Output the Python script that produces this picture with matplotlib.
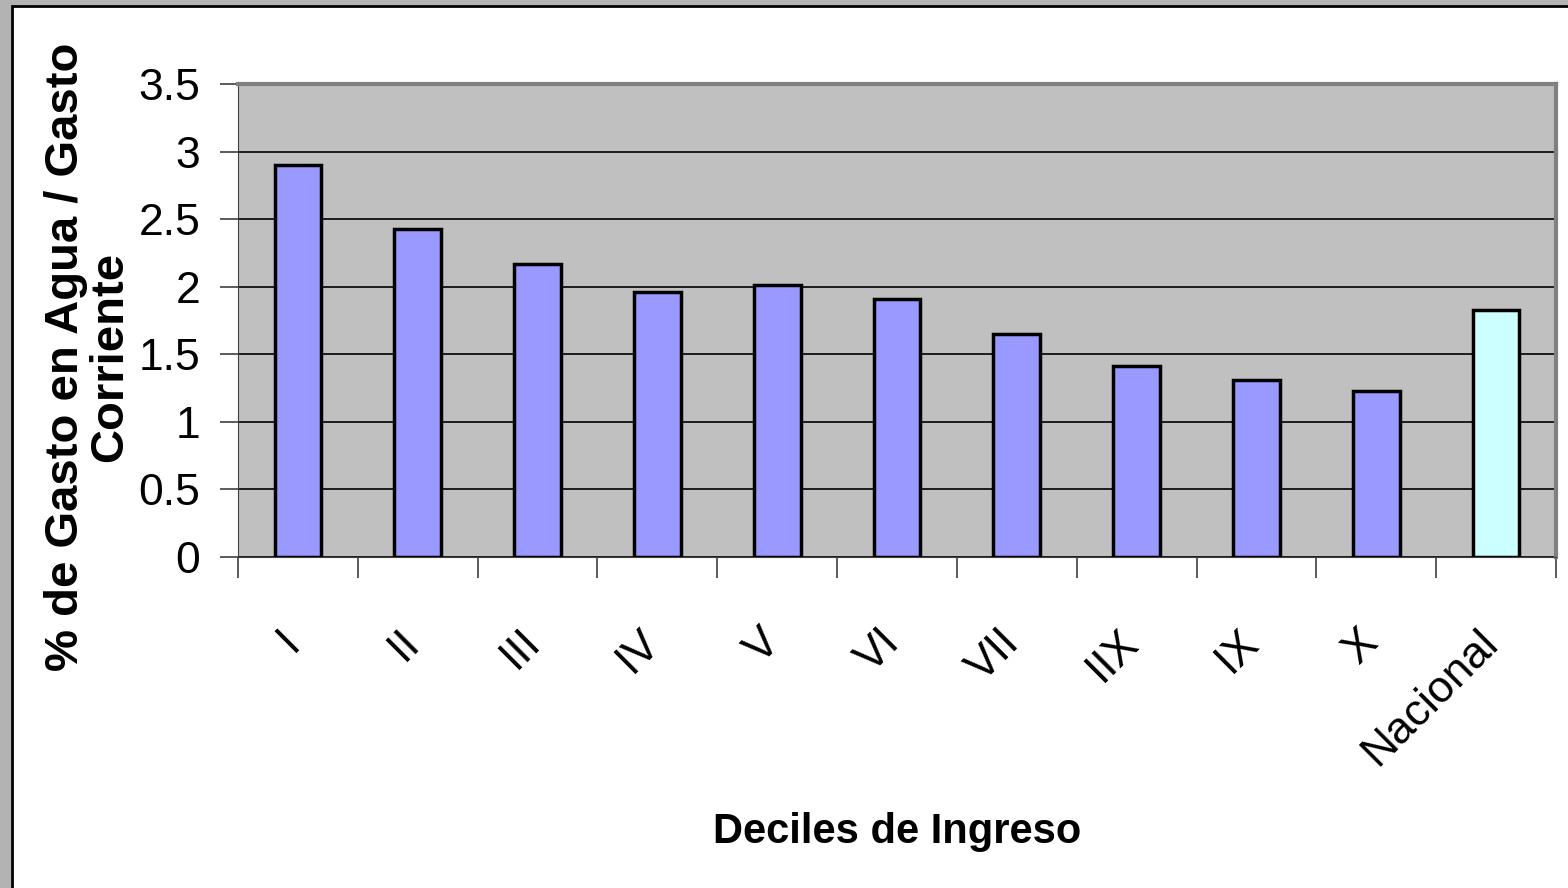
import matplotlib
matplotlib.use("Agg")
import matplotlib.pyplot as plt
from matplotlib.patches import Rectangle

# Datos
deciles = ["I", "II", "III", "IV", "V", "VI", "VII", "IIX", "IX", "X", "Nacional"]
porcentaje = [2.90, 2.43, 2.17, 1.96, 2.01, 1.91, 1.65, 1.41, 1.31, 1.23, 1.83]
colores = ["#9999FF"] * 10 + ["#CCFFFF"]
yticks = [0, 0.5, 1, 1.5, 2, 2.5, 3, 3.5]

plt.rcParams['font.family'] = ['Liberation Sans', 'DejaVu Sans']

fig = plt.figure(figsize=(15.68, 8.88), dpi=100)
fig.patch.set_facecolor("#B3B3B3")
# marco blanco del area del grafico
fig.patches.append(Rectangle((12 / 1568, -0.05), 1.1, 1 - 6 / 888 + 0.05,
                             transform=fig.transFigure, facecolor="white",
                             edgecolor="black", linewidth=2, zorder=-1))

ax = fig.add_axes([238 / 1568, 1 - 557 / 888, (1556 - 238) / 1568, (557 - 84) / 888])
ax.set_zorder(2)
ax.set_facecolor("#C0C0C0")

x = range(len(deciles))
ax.bar(x, porcentaje, width=0.39, color=colores, edgecolor="black", linewidth=2.5, zorder=3)

ax.set_xlim(-0.5, len(deciles) - 0.5)
ax.set_ylim(0, 3.5)
ax.set_yticks(yticks)
ax.set_yticklabels([f"{v:g}" for v in yticks], fontsize=32)
ax.yaxis.grid(True, color="black", linewidth=1.2, zorder=1)
ax.set_axisbelow(True)

# ticks en los limites de categoria
ax.set_xticks([i - 0.5 for i in range(len(deciles) + 1)])
ax.set_xticklabels([])
ax.tick_params(axis="x", direction="out", length=15, width=1.2, color="#404040")
ax.tick_params(axis="y", direction="out", length=13, width=1.2, pad=14, color="#404040")

for i, lab in enumerate(deciles):
    ax.annotate(lab, xy=(i, 0), xycoords=("data", "axes fraction"),
                xytext=(-4, -79), textcoords="offset pixels",
                rotation=45, rotation_mode="anchor", ha="right", va="center",
                fontsize=32)

ax.spines["left"].set_color("#404040")
ax.spines["bottom"].set_color("#404040")
ax.spines["top"].set_color("#808080")
ax.spines["right"].set_color("#808080")
ax.spines["top"].set_linewidth(3)
ax.spines["right"].set_linewidth(3)

fig.text(88 / 1568, 1 - 357 / 888, "% de Gasto en Agua / Gasto\nCorriente",
         rotation=90, ha="center", va="center", multialignment="center",
         fontsize=34, fontweight="bold", linespacing=1.0)
fig.text(897 / 1568, 1 - 832 / 888, "Deciles de Ingreso",
         ha="center", va="center", fontsize=30, fontweight="bold")

fig.savefig("out.png", dpi=100, facecolor=fig.get_facecolor())
